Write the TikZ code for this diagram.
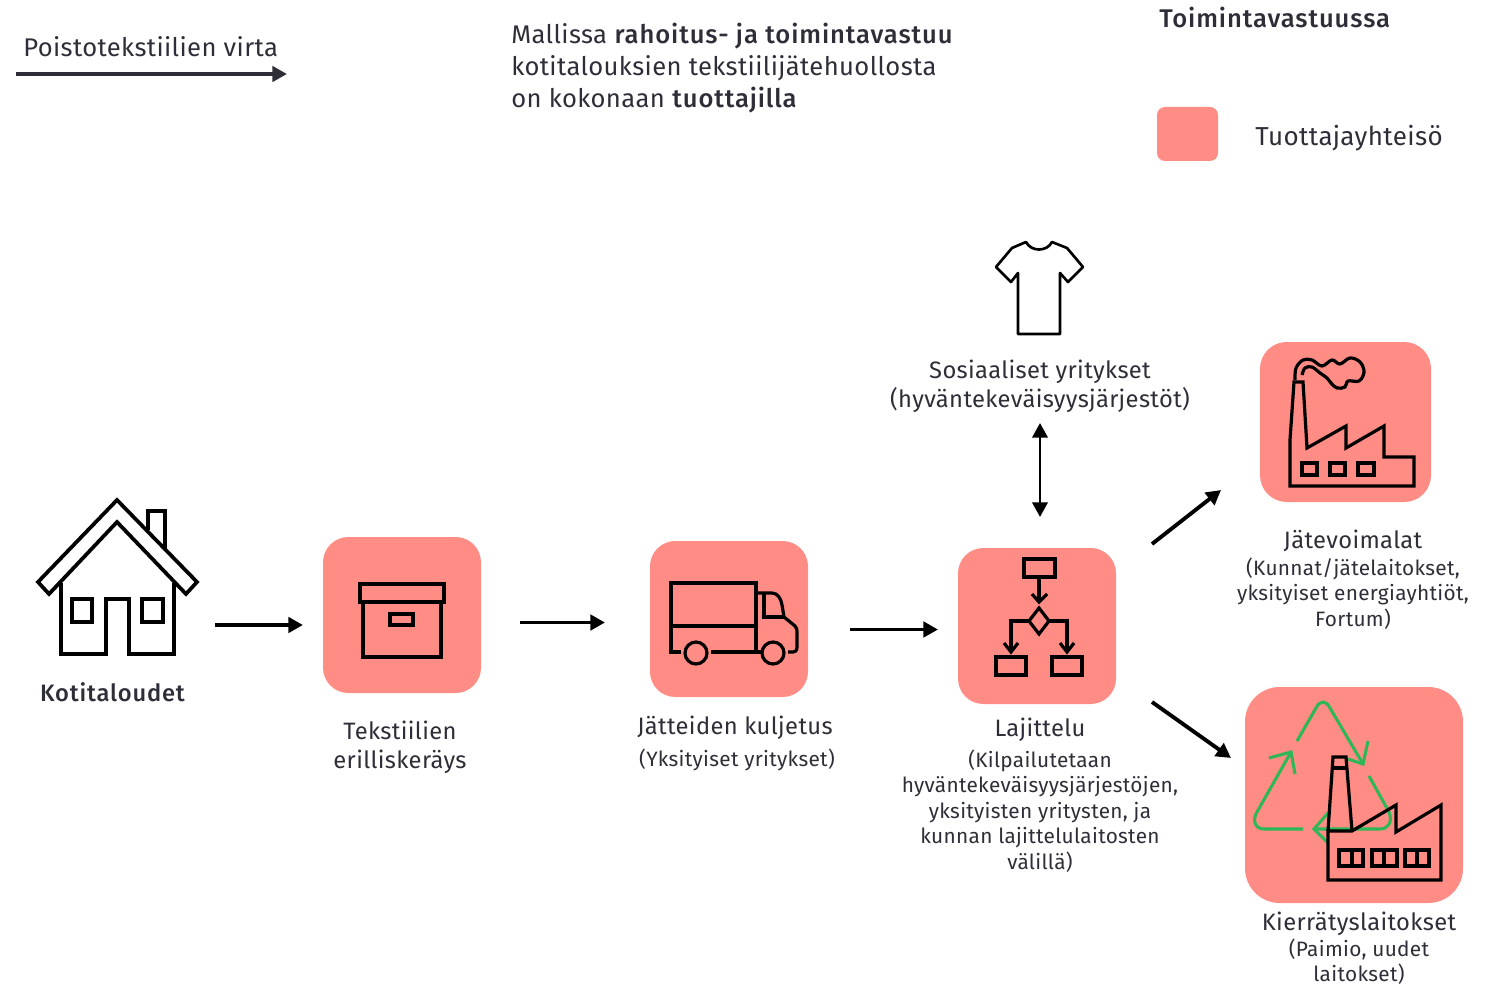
\documentclass[tikz,border=0pt]{standalone}
\usepackage{fontspec}
\setmainfont{Fira Sans}[BoldFont={* Medium},LetterSpace=1.5,BoldFeatures={LetterSpace=3.5}]
\usetikzlibrary{arrows.meta}
\definecolor{salmon}{HTML}{FF8C85}
\definecolor{inkdark}{HTML}{2E2E38}
\definecolor{recyc}{HTML}{2DB757}
\tikzset{
  x=0.75pt,y=-0.75pt,
  lbl/.style={text=inkdark,inner sep=0pt,align=center,font=\fontsize{17.8}{21.5}\selectfont},
  small/.style={text=inkdark,inner sep=0pt,align=center,font=\fontsize{15.6}{19.2}\selectfont},
  head/.style={text=inkdark,inner sep=0pt,align=left,anchor=west,font=\fontsize{19.2}{24}\selectfont},
  flow/.style={line width=2.9pt,-{Triangle[length=11pt,width=11.5pt]}},
  icon/.style={draw=black,line width=2.8pt,line join=miter},
  thin icon/.style={draw=black,line width=2.4pt,line join=miter},
  greenl/.style={draw=recyc,line width=2.3pt}
}
\begin{document}
\begin{tikzpicture}
\useasboundingbox (0,0) rectangle (1492,984);
% tiles
\fill[salmon,rounded corners=6pt] (1157,107) rectangle (1218,161);
\fill[salmon,rounded corners=19pt] (323,537) rectangle (481,693);
\fill[salmon,rounded corners=19pt] (650,541) rectangle (808,697);
\fill[salmon,rounded corners=19pt] (958,548) rectangle (1116,704);
\fill[salmon,rounded corners=20pt] (1260,342) rectangle (1431,502);
\fill[salmon,rounded corners=26pt] (1245,687) rectangle (1463,903);
% anchors for connectors
\coordinate (legS) at (16,74); \coordinate (legE) at (287,74);
\coordinate (houseOut) at (215,625); \coordinate (collectIn) at (303,625);
\coordinate (collectOut) at (520,622.5); \coordinate (truckIn) at (605,622.5);
\coordinate (truckOut) at (850,629.5); \coordinate (sortIn) at (938,629.5);
\coordinate (sortUp) at (1040,517); \coordinate (socialDown) at (1040,423);
\coordinate (sortE1) at (1152,544); \coordinate (energyIn) at (1221,490);
\coordinate (sortE2) at (1152,702); \coordinate (recycleIn) at (1231,758);
% connectors
\draw[flow,draw=inkdark,fill=inkdark] (legS) -- (legE);
\draw[flow] (houseOut) -- (collectIn);
\draw[flow] (collectOut) -- (truckIn);
\draw[flow] (truckOut) -- (sortIn);
\draw[line width=2.1pt,{Triangle[length=11pt,width=11.5pt]}-{Triangle[length=11pt,width=11.5pt]}] (socialDown) -- (sortUp);
\draw[flow] (sortE1) -- (energyIn);
\draw[flow] (sortE2) -- (recycleIn);
% house
\draw[icon] (117,500) -- (38,582) -- (49,594) -- (117,522) -- (186,594) -- (197,582) -- cycle;
\draw[icon] (61,583) -- (61,654) -- (106,654) -- (106,599) -- (129,599) -- (129,654) -- (174,654) -- (174,583);
\draw[icon] (72,599) rectangle (92,622);
\draw[icon] (142,599) rectangle (163,622);
\draw[icon] (148,530) -- (148,511) -- (165,511) -- (165,548);
% box
\draw[thin icon] (360,584) rectangle (444,602);
\draw[thin icon] (363,602) rectangle (441,657);
\draw[thin icon] (390,614) rectangle (413,625);
% truck
\draw[thin icon] (681,652) -- (671,652) -- (671,583) -- (756,583) -- (756,652);
\draw[thin icon] (671,626) -- (756,626);
\draw[thin icon] (711,652) -- (762,652);
\draw[thin icon] (696,653) circle[radius=11];
\draw[thin icon] (773,653) circle[radius=11];
\draw[thin icon] (756,593) -- (772,593) .. controls (778,593) and (781,599) .. (782,605) -- (784,617) -- (795,626) .. controls (797,628) and (797,630) .. (797,632) -- (797,647) .. controls (797,651) and (795,652) .. (793,652) -- (788,652);
\draw[thin icon] (764,593) -- (764,617) -- (784,617);
% flow chart
\draw[thin icon] (1024,559) rectangle (1055,577);
\draw[thin icon] (1039,577) -- (1039,602);
\draw[thin icon] (1032,594) -- (1039,602) -- (1047,594);
\draw[thin icon] (1039,608) -- (1029,621) -- (1039,634) -- (1049,621) -- cycle;
\draw[thin icon] (1029,621) -- (1011,621) -- (1011,652);
\draw[thin icon] (1004,643) -- (1011,652) -- (1018,643);
\draw[thin icon] (1049,621) -- (1067,621) -- (1067,652);
\draw[thin icon] (1060,643) -- (1067,652) -- (1074,643);
\draw[thin icon] (996,657) rectangle (1026,675);
\draw[thin icon] (1052,657) rectangle (1082,675);
% factory with smoke
\draw[thin icon] (1290,486) -- (1414,486) -- (1414,457) -- (1384,457) -- (1384,426) -- (1346,448) -- (1346,426) -- (1307,448) -- (1303,382) -- (1294,382) -- (1290,440) -- cycle;
\draw[thin icon] (1302,463) rectangle (1317,475);
\draw[thin icon] (1330,463) rectangle (1345,475);
\draw[thin icon] (1358,463) rectangle (1374,475);
\draw[thin icon,line join=round] plot[smooth,tension=0.6] coordinates {(1295,380) (1296,368) (1303,360) (1312,360) (1322,366) (1332,360) (1340,364) (1350,358) (1360,362) (1364,372) (1359,381) (1348,381) (1345,387) (1337,388) (1331,383) (1327,378) (1320,373) (1312,367) (1305,368) (1302,375)};
% recycling
\draw[greenl] (1297,741) -- (1316,708) .. controls (1320,700) and (1326,700) .. (1330,708) -- (1363,764);
\draw[greenl] (1348,759) -- (1363,764) -- (1368,741);
\draw[greenl] (1369,776) -- (1389,812) .. controls (1393,822) and (1388,829) .. (1380,829) -- (1314,829);
\draw[greenl] (1328,813) -- (1314,829) -- (1328,843);
\draw[greenl] (1303,829) -- (1264,829) .. controls (1255,829) and (1252,820) .. (1257,812) -- (1291,752);
\draw[greenl] (1269,758) -- (1291,752) -- (1295,774);
% factory in recycling
\draw[thin icon] (1328,880) -- (1441,880) -- (1441,805) -- (1396,832) -- (1396,805) -- (1352,831) -- (1328,831) -- cycle;
\draw[thin icon] (1328,831) -- (1333,757) -- (1346,757) -- (1352,831);
\draw[thin icon] (1334,768) -- (1347,768);
\draw[thin icon] (1339,850) rectangle (1363,866); \draw[thin icon] (1352,850) -- (1352,866);
\draw[thin icon] (1372,850) rectangle (1397,866); \draw[thin icon] (1384,850) -- (1384,866);
\draw[thin icon] (1405,850) rectangle (1429,866); \draw[thin icon] (1417,850) -- (1417,866);
% shirt
\draw[icon,line width=2pt,line join=round] (1026,242) .. controls (1031,252) and (1047,252) .. (1052,242) -- (1067,248) -- (1083,267) -- (1068,282) -- (1060,273) -- (1060,334) -- (1018,334) -- (1018,273) -- (1011,282) -- (996,267) -- (1012,248) -- cycle;
% text
\node[head] (legend) at (23,47) {Poistotekstiilien virta};
\node[head] (model) at (511,68) {Mallissa \textbf{rahoitus- ja toimintavastuu}\\kotitalouksien tekstiilijätehuollosta\\on kokonaan \textbf{tuottajilla}};
\node[head] (resp) at (1159,17) {\textbf{Toimintavastuussa}};
\node[head,font=\fontsize{19.5}{24}\selectfont] (prod) at (1255,138) {Tuottajayhteisö};
\node[lbl] (homes) at (113,692) {\textbf{Kotitaloudet}};
\node[lbl] (collect) at (400,747) {Tekstiilien\\erilliskeräys};
\node[lbl] (transport) at (735,728) {Jätteiden kuljetus};
\node[small] (transport2) at (737,760) {(Yksityiset yritykset)};
\node[lbl] (sort) at (1040,730) {Lajittelu};
\node[small] (sort2) at (1040,811) {(Kilpailutetaan\\hyväntekeväisyysjärjestöjen,\\yksityisten yritysten, ja\\kunnan lajittelulaitosten\\välillä)};
\node[lbl] (social) at (1040,386) {Sosiaaliset yritykset\\(hyväntekeväisyysjärjestöt)};
\node[lbl] (energy) at (1353,541) {Jätevoimalat};
\node[small] (energy2) at (1353,593.5) {(Kunnat/jätelaitokset,\\yksityiset energiayhtiöt,\\Fortum)};
\node[lbl] (recy) at (1359,924) {Kierrätyslaitokset};
\node[small,font=\fontsize{15.6}{18.4}\selectfont] (recy2) at (1359,961.5) {(Paimio, uudet\\laitokset)};
\end{tikzpicture}
\end{document}
